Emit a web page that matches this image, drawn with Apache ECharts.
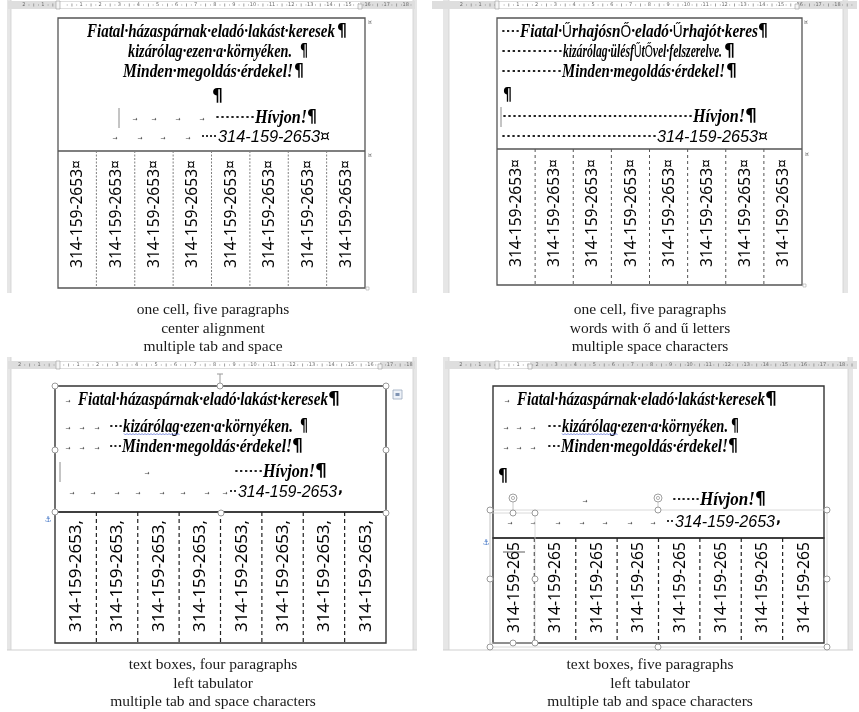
<!DOCTYPE html>
<html><head><meta charset="utf-8">
<script src="https://cdn.jsdelivr.net/npm/echarts/dist/echarts.min.js"></script>
<style>html,body{margin:0;padding:0;background:#fff}#c{width:859px;height:712px}</style>
</head><body><div id="c"></div>
<script>
// ---------- DATA (texts only) ----------
const adLines = ["Fiatal·házaspárnak·eladó·lakást·keresek", "kizárólag·ezen·a·környéken.", "Minden·megoldás·érdekel!", "Hívjon!"];
const adLinesAccent = ["Fiatal·ŰrhajósnŐ·eladó·Űrhajót·keres", "kizárólag·ülésfŰtŐvel·felszerelve.", "Minden·megoldás·érdekel!", "Hívjon!"];
const phone = "314-159-2653";
const phoneClipped = "314-159-265";
const cellMark = "¤";
const boxMark = ",";
const pilcrow = "¶";
const stripCount = 8;
const captionsTL = ["one cell, five paragraphs", "center alignment", "multiple tab and space"];
const captionsTR = ["one cell, five paragraphs", "words with ő and ű letters", "multiple space characters"];
const captionsBL = ["text boxes, four paragraphs", "left tabulator", "multiple tab and space characters"];
const captionsBR = ["text boxes, five paragraphs", "left tabulator", "multiple tab and space characters"];

// ---------- helpers ----------
const SCRIPT = 'italic bold 19px "Liberation Serif"';
const UPRIGHT = '17px "Liberation Sans"';
const PHONE = 'italic 17px "Liberation Sans"';
const PIL = 'bold 17px "DejaVu Sans"';
const DOT = 'bold 11px "DejaVu Sans"';
const TAB = '6px "DejaVu Sans"';
const CAP = '15.5px "Liberation Serif"';
const cv = document.createElement('canvas').getContext('2d');
function mw(t, f) { cv.font = f; return cv.measureText(t).width; }
const G = [];
function txt(text, font, x, y, o) {
  o = o || {};
  G.push({type: 'text', x: x, y: y, scaleX: o.sx || 1, rotation: o.rot || 0,
    style: {text: text, font: font, fill: o.fill || '#000', textAlign: o.align || 'left', align: o.align || 'left',
      textVerticalAlign: 'middle', verticalAlign: 'middle'}});
}
function fit(text, font, x0, x1, y, o) { o = o || {}; o.sx = (x1 - x0) / mw(text, font); txt(text, font, x0, y, o); }
function ln(x1, y1, x2, y2, stroke, lw, dash) {
  G.push({type: 'line', shape: {x1: x1, y1: y1, x2: x2, y2: y2}, style: {stroke: stroke, lineWidth: lw || 1, lineDash: dash || null}});
}
function rc(x, y, w, h, fill, stroke, lw) {
  G.push({type: 'rect', shape: {x: x, y: y, width: w, height: h}, style: {fill: fill || 'none', stroke: stroke || 'none', lineWidth: lw || 1}});
}
function ci(cx, cy, r, fill, stroke, lw) {
  G.push({type: 'circle', shape: {cx: cx, cy: cy, r: r}, style: {fill: fill || 'none', stroke: stroke || 'none', lineWidth: lw || 1}});
}
function runs(text) {
  const out = []; let cur = '', cu = null;
  for (const ch of text) { const u = /[ŐŰ]/.test(ch); if (cu === null || u === cu) { cur += ch; cu = u; } else { out.push([cur, cu]); cur = ch; cu = u; } }
  if (cur) out.push([cur, cu]); return out;
}
function fitRuns(text, x0, x1, y) {
  const rs = runs(text).map(r => ({t: r[0], f: r[1] ? UPRIGHT : SCRIPT})); rs.forEach(r => r.w = mw(r.t, r.f));
  const tot = rs.reduce((a, r) => a + r.w, 0), s = (x1 - x0) / tot; let x = x0;
  rs.forEach(r => { txt(r.t, r.f, x, y, {sx: s}); x += r.w * s; });
}
function drawLine(L) {
  const y = L.y;
  L.items.forEach(it => {
    const k = it[0];
    if (k === 's') fitRuns(it[1], it[2], it[3], y);
    else if (k === 'p') fit(pilcrow, PIL, it[1], it[2], y);
    else if (k === 'd') fit('·'.repeat(it[1]), DOT, it[2], it[3], y, {fill: '#222'});
    else if (k === 't') txt('→', TAB, it[1], y + 1, {align: 'center', fill: '#444'});
    else if (k === 'n') fit(phone, PHONE, it[1], it[2], y);
    else if (k === 'm') fit(cellMark, '15px "DejaVu Sans"', it[1], it[2], y);
    else if (k === 'b') fit(boxMark, 'bold 14px "DejaVu Sans"', it[1], it[2], y - 3);
    else if (k === 'c') ln(it[1], y - 10, it[1], y + 10, '#8a8a8a', 1);
  });
}
function strips(x0, x1, y0, y1, text, bottom, top, sepColor, dash, lw, fontPx) {
  const font = fontPx + 'px "Noto Sans"';
  const w = (x1 - x0) / stripCount;
  for (let i = 1; i < stripCount; i++) ln(x0 + i * w, y0, x0 + i * w, y1, sepColor, lw, dash);
  for (let i = 0; i < stripCount; i++) {
    const cx = x0 + (i + 0.5) * w + 0.5;
    txt(text, font, cx, bottom, {rot: Math.PI / 2, sx: (bottom - top) / mw(text, font)});
  }
}
function ruler(x0, x1, y, wx0, wx1, zero, step, kmin, kmax) {
  rc(x0, y, x1 - x0, 8, '#dedede');
  rc(wx0, y + 1, wx1 - wx0, 6, '#ffffff');
  for (let k = kmin; k <= kmax; k++) {
    const x = zero + k * step;
    if (x < x0 + 2 || x > x1 - 2) continue;
    if (k !== 0) txt(String(Math.abs(k)), '5px "DejaVu Sans"', x, y + 4, {align: 'center', fill: '#6a6a6a'});
    [0.25, 0.5, 0.75].forEach(q => { const xx = x + q * step; if (xx < x1 - 2) rc(xx, y + (q === 0.5 ? 2.5 : 3.5), 0.8, q === 0.5 ? 3 : 1, '#8a8a8a'); });
  }
  rc(wx0 - 2, y, 4, 8, '#f4f4f4', '#9a9a9a', 0.6);
  rc(wx1 - 2, y + 3, 4, 5, '#f4f4f4', '#9a9a9a', 0.6);
}
function caption(lines, cx, y0) { lines.forEach((t, i) => txt(t, CAP, cx, y0 + i * 18.5, {align: 'center', fill: '#1a1a1a'})); }
function handle(x, y) { ci(x, y, 3, '#ffffff', '#9a9a9a', 1); }
function wavy(x0, x1, y) {
  const pts = []; for (let x = x0, i = 0; x <= x1; x += 1.5, i++) pts.push([x, y + (i % 2 ? 1 : -0.5)]);
  G.push({type: 'polyline', shape: {points: pts}, style: {stroke: '#5b6fd6', lineWidth: 0.8, fill: 'none'}});
}
function page(gx0, gx1, gy0, gy1, px0, px1) {
  rc(gx0, gy0, gx1 - gx0, gy1 - gy0, '#e6e6e6');
  rc(px0, gy0, px1 - px0, gy1 - gy0, '#ffffff');
  ln(px0, gy0, px0, gy1, '#cfcfcf', 0.8); ln(px1, gy0, px1, gy1, '#cfcfcf', 0.8);
}

// ---------- PANEL 1 : top-left ----------
page(7, 417, 0, 293, 11, 413);
ruler(8, 415, 1, 58, 360, 62, 19.1, -2, 18);
rc(58, 18, 307, 270, 'none', '#555', 1.3);
ln(58, 151, 365, 151, '#555', 1.3);
[
  {y: 32, items: [['s', adLines[0], 87, 335], ['p', 337, 347]]},
  {y: 52, items: [['s', adLines[1], 128, 292], ['p', 300, 308]]},
  {y: 72, items: [['s', adLines[2], 123, 293], ['p', 294, 304]]},
  {y: 97, items: [['p', 212, 223]]},
  {y: 118, items: [['c', 119], ['t', 135], ['t', 154], ['t', 178], ['t', 202], ['d', 8, 215, 255], ['s', adLines[3], 255, 307], ['p', 307, 317]]},
  {y: 137, items: [['t', 115], ['t', 140], ['t', 163], ['t', 188], ['d', 4, 201, 217], ['n', 218, 320], ['m', 320, 330]]}
].forEach(drawLine);
strips(58, 365, 151, 288, phone + cellMark, 268, 160, '#808080', [2, 1.5], 1, 16);
txt('¤', '6px "DejaVu Sans"', 368, 22, {fill: '#555'});
txt('¤', '6px "DejaVu Sans"', 368, 155, {fill: '#555'});
rc(366, 287, 3, 3, '#fff', '#aaa', 0.6);
caption(captionsTL, 213, 310);

// ---------- PANEL 2 : top-right ----------
page(443, 848, 0, 293, 449, 843);
ruler(432, 857, 1, 497, 797, 499, 18.8, -2, 18);
rc(497, 18, 305, 267, 'none', '#555', 1.3);
ln(497, 149, 802, 149, '#555', 1.3);
[
  {y: 32, items: [['d', 4, 501, 520], ['s', adLinesAccent[0], 520, 758], ['p', 758, 768]]},
  {y: 52, items: [['d', 12, 501, 563], ['s', adLinesAccent[1], 563, 722], ['p', 724, 735]]},
  {y: 72, items: [['d', 12, 501, 562], ['s', adLinesAccent[2], 562, 725], ['p', 726, 737]]},
  {y: 96, items: [['p', 503, 512]]},
  {y: 117, items: [['c', 501], ['d', 38, 502, 693], ['s', adLinesAccent[3], 693, 745], ['p', 745, 757]]},
  {y: 137, items: [['d', 31, 501, 657], ['n', 657, 758], ['m', 758, 768]]}
].forEach(drawLine);
strips(497, 802, 149, 285, phone + cellMark, 267, 159, '#555', [3, 3], 1, 16);
txt('¤', '6px "DejaVu Sans"', 804, 22, {fill: '#555'});
txt('¤', '6px "DejaVu Sans"', 805, 154, {fill: '#555'});
rc(803, 284, 3, 3, '#fff', '#aaa', 0.6);
caption(captionsTR, 650, 310);

// ---------- PANEL 3 : bottom-left ----------
page(7, 417, 357, 650, 11, 413);
ln(7, 650, 417, 650, '#cfcfcf', 1);
ruler(8, 415, 361, 58, 380, 58.5, 19.5, -2, 18);
ln(220, 374, 220, 386, '#9a9a9a', 1); ln(217, 374, 223, 374, '#9a9a9a', 1);
rc(55, 386, 331, 126, 'none', '#333', 1.4);
rc(55, 512, 331, 131, 'none', '#333', 1.4);
[
  {y: 400, items: [['t', 68], ['s', adLines[0], 78, 328], ['p', 328, 340]]},
  {y: 427, items: [['t', 68], ['t', 82], ['t', 97], ['d', 3, 109, 123], ['s', adLines[1], 123, 293], ['p', 300, 308]]},
  {y: 447, items: [['t', 68], ['t', 82], ['t', 97], ['d', 3, 109, 122], ['s', adLines[2], 122, 292], ['p', 292, 303]]},
  {y: 472, items: [['c', 60], ['t', 147], ['d', 6, 234, 263], ['s', adLines[3], 263, 315], ['p', 315, 327]]},
  {y: 492, items: [['t', 72], ['t', 93], ['t', 117], ['t', 138], ['t', 162], ['t', 183], ['t', 207], ['t', 225], ['d', 2, 229, 237], ['n', 238, 337], ['b', 338, 343]]}
].forEach(drawLine);
wavy(124, 180, 434);
strips(55, 386, 512, 643, phone + boxMark, 632, 520, '#222', [4, 3], 1.2, 17);
[[55, 386], [220, 386], [386, 386], [55, 450], [386, 450], [55, 512], [221, 513], [386, 513]].forEach(p => handle(p[0], p[1]));
rc(393, 390, 9, 9, '#eef2f8', '#9aa8bd', 0.8); rc(395.5, 393, 4, 3, '#7f93b3');
txt('⚓', '8px "DejaVu Sans"', 48, 520, {align: 'center', fill: '#3a6fc4'});
caption(captionsBL, 213, 665);

// ---------- PANEL 4 : bottom-right ----------
page(443, 853, 357, 650, 449, 848);
ln(443, 650, 853, 650, '#cfcfcf', 1);
ruler(445, 857, 361, 497, 530, 499, 19.06, -2, 18);
rc(493, 386, 331, 152, 'none', '#333', 1.4);
rc(493, 538, 331, 105, 'none', '#333', 1.4);
[
  {y: 400, items: [['t', 507], ['s', adLines[0], 517, 765], ['p', 765, 777]]},
  {y: 427, items: [['t', 506], ['t', 519], ['t', 533], ['d', 3, 547, 562], ['s', adLines[1], 562, 728], ['p', 731, 739]]},
  {y: 447, items: [['t', 506], ['t', 519], ['t', 533], ['d', 3, 547, 561], ['s', adLines[2], 561, 728], ['p', 728, 738]]},
  {y: 477, items: [['p', 498, 508]]},
  {y: 500, items: [['t', 585], ['d', 6, 672, 700], ['s', adLines[3], 700, 755], ['p', 755, 766]]},
  {y: 522, items: [['t', 510], ['t', 533], ['t', 558], ['t', 582], ['t', 605], ['t', 630], ['t', 653], ['d', 2, 666, 674], ['n', 675, 775], ['b', 776, 781]]}
].forEach(drawLine);
wavy(562, 618, 434);
strips(493, 824, 538, 643, phoneClipped, 633, 542, '#222', [4, 3], 1.2, 17);
ln(503, 552, 525, 552, '#333', 0.8);
// selection frames
rc(490, 510, 337, 137, 'none', '#d0d0d0', 0.8);
rc(490, 513, 45, 130, 'none', '#d0d0d0', 0.8);
ln(513, 502, 513, 513, '#bcbcbc', 0.8); ln(658, 502, 658, 510, '#bcbcbc', 0.8);
[[513, 498], [658, 498]].forEach(p => { ci(p[0], p[1], 4, '#fff', '#a0a0a0', 1); ci(p[0], p[1], 1.6, 'none', '#a0a0a0', 0.8); });
[[490, 510], [513, 513], [535, 513], [658, 510], [827, 510], [490, 579], [535, 579], [827, 579],
 [490, 647], [513, 643], [535, 643], [658, 647], [827, 647]].forEach(p => handle(p[0], p[1]));
txt('⚓', '8px "DejaVu Sans"', 486, 543, {align: 'center', fill: '#3a6fc4'});
caption(captionsBR, 650, 665);

const chart = echarts.init(document.getElementById('c'), null, {renderer: 'canvas'});
chart.setOption({animation: false, graphic: {elements: G}});
</script></body></html>
